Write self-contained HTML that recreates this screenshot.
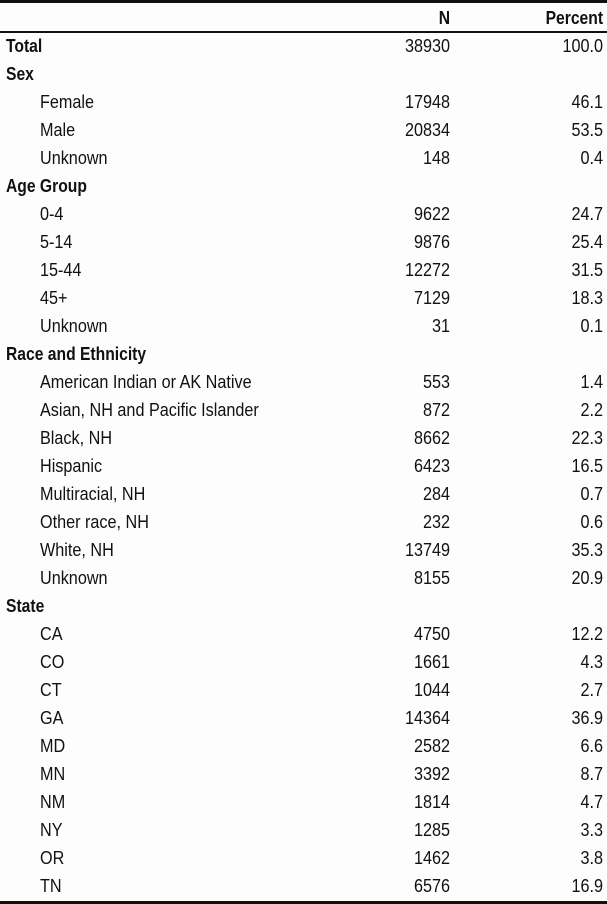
<!DOCTYPE html>
<html><head><meta charset="utf-8"><style>
body{margin:0;width:607px;height:904px;background:#fdfdfd;font-family:"Liberation Sans",Arial,sans-serif;font-size:18px;color:#111;position:relative;overflow:hidden}
.b{position:absolute;left:0;width:607px;background:#111}
.r{position:absolute;left:0;width:607px;height:28px;line-height:28px}
.r span{display:inline-block;transform:scaleX(0.9)}
.h span.l,.hd span{transform:scaleX(0.87)}
.l{position:absolute;left:6px;transform-origin:left center}
.i .l{left:40px}
.n{position:absolute;right:157px;transform-origin:right center}
.p{position:absolute;right:4px;transform-origin:right center}
.h .l,.hd span{font-weight:bold}
</style></head><body>
<div class="b" style="top:0;height:3px"></div>
<div class="r hd" style="top:4px"><span class="n">N</span><span class="p">Percent</span></div>
<div class="b" style="top:31px;height:2px"></div>
<div id="t"></div>
<div class="b" style="top:901px;height:3px"></div>
<script>
const labels=["Total","Sex","Female","Male","Unknown","Age Group","0-4","5-14","15-44","45+","Unknown","Race and Ethnicity","American Indian or AK Native","Asian, NH and Pacific Islander","Black, NH","Hispanic","Multiracial, NH","Other race, NH","White, NH","Unknown","State","CA","CO","CT","GA","MD","MN","NM","NY","OR","TN"];
const counts=[38930,null,17948,20834,148,null,9622,9876,12272,7129,31,null,553,872,8662,6423,284,232,13749,8155,null,4750,1661,1044,14364,2582,3392,1814,1285,1462,6576];
const percents=["100.0",null,"46.1","53.5","0.4",null,"24.7","25.4","31.5","18.3","0.1",null,"1.4","2.2","22.3","16.5","0.7","0.6","35.3","20.9",null,"12.2","4.3","2.7","36.9","6.6","8.7","4.7","3.3","3.8","16.9"];
const t=document.getElementById('t');
labels.forEach((lab,i)=>{
  const r=document.createElement('div');
  const bold=(i===0||counts[i]===null);
  r.className='r'+(bold?' h':' i');
  r.style.top=(32+28*i)+'px';
  
  
  const a=document.createElement('span');a.className='l';a.textContent=lab;
  
  
  r.appendChild(a);
  if(counts[i]!==null){
    const n=document.createElement('span');n.className='n';n.textContent=counts[i];
    
    
    const p=document.createElement('span');p.className='p';p.textContent=percents[i];
    
    
    r.appendChild(n);r.appendChild(p);
  }
  t.appendChild(r);
});
</script>
</body></html>
